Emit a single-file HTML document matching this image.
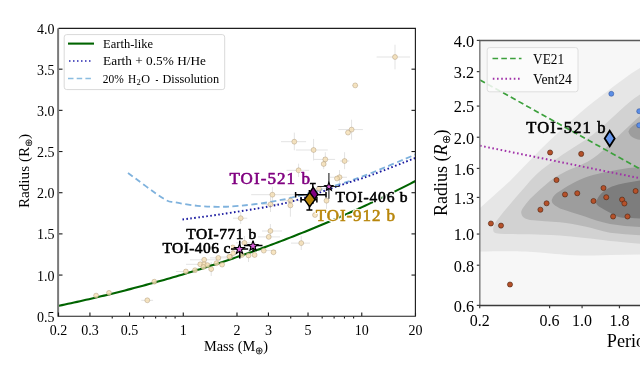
<!DOCTYPE html><html><head><meta charset="utf-8"><style>html,body{margin:0;padding:0;background:#fff;width:640px;height:376px;overflow:hidden;position:relative}</style></head><body><div style="position:absolute;left:0;top:0;width:640px;height:376px;will-change:transform"><svg width="640" height="376" viewBox="0 0 640 376" style="position:absolute;left:0;top:0">
<defs><clipPath id="cl"><rect x="58.5" y="28.4" width="356.9" height="287.85"/></clipPath><clipPath id="cr"><rect x="480" y="40.5" width="170" height="265"/></clipPath></defs>
<g clip-path="url(#cl)">
<g stroke="#e3e3e3" stroke-width="1" fill="none">
<line x1="376.6" y1="57" x2="410.1" y2="57"/>
<line x1="395" y1="44.7" x2="395" y2="69.4"/>
<line x1="352.5" y1="85.4" x2="358" y2="85.4"/>
<line x1="338.3" y1="129.6" x2="362.9" y2="129.6"/>
<line x1="351.6" y1="119.7" x2="351.6" y2="139.8"/>
<line x1="281" y1="141.7" x2="306.1" y2="141.7"/>
<line x1="294.3" y1="132.6" x2="294.3" y2="150.3"/>
<line x1="295.9" y1="150" x2="327.8" y2="150"/>
<line x1="313.6" y1="138.9" x2="313.6" y2="160.5"/>
<line x1="313.6" y1="159.4" x2="335.1" y2="159.4"/>
<line x1="325.3" y1="152.2" x2="325.3" y2="166"/>
<line x1="323.7" y1="157" x2="323.7" y2="169.2"/>
<line x1="339.9" y1="161" x2="349.3" y2="161"/>
<line x1="344.6" y1="152.2" x2="344.6" y2="169.2"/>
<line x1="286.5" y1="170.3" x2="309.2" y2="170.3"/>
<line x1="298.6" y1="163.7" x2="298.6" y2="177"/>
<line x1="330" y1="177.25" x2="347" y2="177.25"/>
<line x1="339.5" y1="170" x2="339.5" y2="185"/>
<line x1="251.2" y1="194.7" x2="295.9" y2="194.7"/>
<line x1="272.4" y1="186.8" x2="272.4" y2="204"/>
<line x1="311" y1="188.7" x2="328" y2="188.7"/>
<line x1="326.5" y1="193" x2="326.5" y2="213"/>
<line x1="281.8" y1="200.7" x2="300.6" y2="200.7"/>
<line x1="290.4" y1="196.3" x2="290.4" y2="216.7"/>
<line x1="262" y1="204.4" x2="279" y2="204.4"/>
<line x1="270.5" y1="197" x2="270.5" y2="212"/>
<line x1="233" y1="218.2" x2="247.3" y2="218.2"/>
<line x1="240.7" y1="212" x2="240.7" y2="224"/>
<line x1="262" y1="231" x2="282" y2="231"/>
<line x1="270.4" y1="224" x2="270.4" y2="238"/>
<line x1="258" y1="236.9" x2="280" y2="236.9"/>
<line x1="291" y1="243.1" x2="310" y2="243.1"/>
<line x1="301.25" y1="236" x2="301.25" y2="250"/>
<line x1="236" y1="242.9" x2="256" y2="242.9"/>
<line x1="244.4" y1="236" x2="244.4" y2="250"/>
<line x1="221" y1="256.9" x2="240" y2="256.9"/>
<line x1="248.5" y1="248" x2="248.5" y2="262"/>
<line x1="254" y1="250.6" x2="276" y2="250.6"/>
<line x1="210" y1="257.9" x2="228" y2="257.9"/>
<line x1="190" y1="259.8" x2="221" y2="259.8"/>
<line x1="186" y1="264.3" x2="212" y2="264.3"/>
<line x1="211.2" y1="262" x2="211.2" y2="276"/>
<line x1="176" y1="271.5" x2="196" y2="271.5"/>
<line x1="141.25" y1="300.3" x2="153.1" y2="300.3"/>
</g>
<path d="M128.00,173.00 C133.92,177.27 155.67,193.72 163.50,198.60 C171.33,203.48 169.33,201.10 175.00,202.30 C180.67,203.50 190.42,205.05 197.50,205.80 C204.58,206.55 210.42,206.81 217.50,206.80 C224.58,206.79 231.25,206.55 240.00,205.75 C248.75,204.95 260.00,203.69 270.00,202.00 C280.00,200.31 288.12,198.64 300.00,195.60 C311.88,192.56 329.58,187.43 341.25,183.75 C352.92,180.07 357.81,178.29 370.00,173.50 C382.19,168.71 405.73,158.62 414.40,155.00 C423.07,151.38 420.73,152.33 422.00,151.80" fill="none" stroke="#7fb2dd" stroke-width="1.8" stroke-dasharray="6,3.5"/>
<path d="M182.50,219.50 C188.75,218.65 205.42,216.61 220.00,214.40 C234.58,212.19 256.67,208.80 270.00,206.25 C283.33,203.70 288.12,202.64 300.00,199.10 C311.88,195.56 329.25,189.05 341.25,185.00 C353.25,180.95 359.81,179.25 372.00,174.80 C384.19,170.35 406.07,161.55 414.40,158.30 C422.73,155.05 420.73,155.80 422.00,155.30" fill="none" stroke="#1a1aa0" stroke-width="1.9" stroke-dasharray="1.6,2.4"/>
<polyline points="50,307.57 53,306.97 56,306.38 59,305.76 62,305.13 65,304.49 68,303.84 71,303.19 74,302.53 77,301.87 80,301.2 83,300.52 86,299.84 89,299.15 92,298.46 95,297.76 98,297.05 101,296.34 104,295.62 107,294.9 110,294.16 113,293.43 116,292.68 119,291.93 122,291.17 125,290.41 128,289.64 131,288.86 134,288.08 137,287.29 140,286.5 143,285.69 146,284.88 149,284.07 152,283.24 155,282.42 158,281.58 161,280.74 164,279.89 167,279.03 170,278.17 173,277.3 176,276.42 179,275.54 182,274.65 185,273.75 188,272.84 191,271.93 194,271.01 197,270.08 200,269.15 203,268.21 206,267.26 209,266.31 212,265.34 215,264.38 218,263.4 221,262.41 224,261.42 227,260.42 230,259.41 233,258.4 236,257.38 239,256.35 242,255.31 245,254.27 248,253.21 251,252.15 254,251.08 257,250.01 260,248.92 263,247.83 266,246.73 269,245.62 272,244.51 275,243.38 278,242.25 281,241.11 284,239.96 287,238.81 290,237.64 293,236.47 296,235.29 299,234.1 302,232.9 305,231.69 308,230.48 311,229.25 314,228.02 317,226.78 320,225.53 323,224.27 326,223.0 329,221.73 332,220.44 335,219.15 338,217.85 341,216.54 344,215.22 347,213.89 350,212.55 353,211.2 356,209.84 359,208.48 362,207.1 365,205.72 368,204.33 371,202.92 374,201.51 377,200.09 380,198.66 383,197.22 386,195.77 389,194.31 392,192.84 395,191.37 398,189.88 401,188.38 404,186.87 407,185.36 410,183.83 413,182.29 416,180.74 419,179.16" fill="none" stroke="#006400" stroke-width="2.1"/>
<g fill="#f5deb3" fill-opacity="0.8" stroke="#a8916f" stroke-opacity="0.75" stroke-width="0.6">
<circle cx="395" cy="57" r="2.45"/>
<circle cx="355.2" cy="85.4" r="2.45"/>
<circle cx="351.6" cy="129.6" r="2.45"/>
<circle cx="348" cy="132.6" r="2.45"/>
<circle cx="294.3" cy="141.7" r="2.45"/>
<circle cx="313.6" cy="150" r="2.45"/>
<circle cx="325.3" cy="159.4" r="2.45"/>
<circle cx="323.7" cy="164" r="2.45"/>
<circle cx="344.6" cy="161" r="2.45"/>
<circle cx="298.6" cy="170.3" r="2.45"/>
<circle cx="339.5" cy="177.25" r="2.45"/>
<circle cx="337" cy="178.5" r="2.45"/>
<circle cx="272.4" cy="194.7" r="2.45"/>
<circle cx="319" cy="188.7" r="2.45"/>
<circle cx="326.5" cy="200.7" r="2.45"/>
<circle cx="290.4" cy="200.7" r="2.45"/>
<circle cx="290.4" cy="205.4" r="2.45"/>
<circle cx="270.5" cy="204.4" r="2.45"/>
<circle cx="240.7" cy="218.2" r="2.45"/>
<circle cx="270.4" cy="231" r="2.45"/>
<circle cx="268.75" cy="236.9" r="2.45"/>
<circle cx="301.25" cy="243.1" r="2.45"/>
<circle cx="315" cy="215" r="2.45"/>
<circle cx="244.4" cy="242.9" r="2.45"/>
<circle cx="232.75" cy="247.5" r="2.45"/>
<circle cx="233.1" cy="253.1" r="2.45"/>
<circle cx="230" cy="256.9" r="2.45"/>
<circle cx="241.9" cy="255" r="2.45"/>
<circle cx="248.5" cy="255.4" r="2.45"/>
<circle cx="254.6" cy="255" r="2.45"/>
<circle cx="263.75" cy="250.6" r="2.45"/>
<circle cx="273.5" cy="252.25" r="2.45"/>
<circle cx="218.3" cy="257.9" r="2.45"/>
<circle cx="204.2" cy="259.8" r="2.45"/>
<circle cx="216.5" cy="263.2" r="2.45"/>
<circle cx="222.1" cy="264.6" r="2.45"/>
<circle cx="200.25" cy="264.3" r="2.45"/>
<circle cx="204.2" cy="264.3" r="2.45"/>
<circle cx="207.4" cy="265.1" r="2.45"/>
<circle cx="203.4" cy="267" r="2.45"/>
<circle cx="211.2" cy="269.1" r="2.45"/>
<circle cx="229.4" cy="256.5" r="2.45"/>
<circle cx="185.9" cy="271.5" r="2.45"/>
<circle cx="195" cy="270.25" r="2.45"/>
<circle cx="154.3" cy="281.7" r="2.45"/>
<circle cx="147.3" cy="300.3" r="2.45"/>
<circle cx="96.1" cy="295.6" r="2.45"/>
<circle cx="109" cy="292.9" r="2.45"/>
</g>
<g stroke="#000" stroke-width="1.5" fill="none">
<line x1="295.6" y1="194.75" x2="326" y2="194.75"/><line x1="295.6" y1="192" x2="295.6" y2="197.5"/><line x1="326" y1="192" x2="326" y2="197.5"/>
<line x1="312.8" y1="183.6" x2="312.8" y2="204"/><line x1="309.8" y1="183.6" x2="315.8" y2="183.6"/>
<line x1="301" y1="199.7" x2="316.9" y2="199.7"/><line x1="301" y1="197" x2="301" y2="202.4"/><line x1="316.9" y1="197" x2="316.9" y2="202.4"/>
<line x1="309.4" y1="190" x2="309.4" y2="209.9"/><line x1="306.4" y1="209.9" x2="312.4" y2="209.9"/>
<g stroke="#2a2a2a" stroke-width="1.15"><line x1="317.5" y1="186.5" x2="339.4" y2="186.5"/><line x1="328.9" y1="173" x2="328.9" y2="198.75"/></g>
<line x1="231" y1="249" x2="248" y2="249"/><line x1="239.75" y1="240.6" x2="239.75" y2="258.5"/>
<line x1="244" y1="245.6" x2="262.5" y2="245.6"/><line x1="253.1" y1="241" x2="253.1" y2="252"/>
</g>
<path d="M313.2,187.3 L317.9,194.3 L313.2,201.3 L308.5,194.3 Z" fill="#800080" stroke="#000" stroke-width="1.5" stroke-linejoin="miter"/>
<path d="M309.7,192.4 L315.0,199.6 L309.7,206.79999999999998 L304.4,199.6 Z" fill="#b8860b" stroke="#000" stroke-width="1.5" stroke-linejoin="miter"/>
<path d="M328.90,182.40 L329.96,185.24 L332.99,185.37 L330.62,187.26 L331.43,190.18 L328.90,188.51 L326.37,190.18 L327.18,187.26 L324.81,185.37 L327.84,185.24 Z" fill="#d95fd9" stroke="#000" stroke-width="1.1"/>
<path d="M239.50,244.00 L240.78,247.43 L244.45,247.59 L241.58,249.87 L242.56,253.41 L239.50,251.38 L236.44,253.41 L237.42,249.87 L234.55,247.59 L238.22,247.43 Z" fill="#d95fd9" stroke="#000" stroke-width="1.1"/>
<path d="M253.00,240.90 L254.28,244.33 L257.95,244.49 L255.08,246.77 L256.06,250.31 L253.00,248.28 L249.94,250.31 L250.92,246.77 L248.05,244.49 L251.72,244.33 Z" fill="#d95fd9" stroke="#000" stroke-width="1.1"/>
</g>
<rect x="57.1" y="28.4" width="2" height="288.4" fill="#7a7a7a"/>
<path d="M58.5,28.4 H415.4 V316.25 H58" fill="none" stroke="#1e1e1e" stroke-width="1.15" stroke-linejoin="miter"/>
<g stroke="#1a1a1a" stroke-width="1.1"><line x1="59" y1="275.07" x2="62.5" y2="275.07"/><line x1="415" y1="275.07" x2="411.5" y2="275.07"/><line x1="59" y1="233.89" x2="62.5" y2="233.89"/><line x1="415" y1="233.89" x2="411.5" y2="233.89"/><line x1="59" y1="192.71" x2="62.5" y2="192.71"/><line x1="415" y1="192.71" x2="411.5" y2="192.71"/><line x1="59" y1="151.53" x2="62.5" y2="151.53"/><line x1="415" y1="151.53" x2="411.5" y2="151.53"/><line x1="59" y1="110.35" x2="62.5" y2="110.35"/><line x1="415" y1="110.35" x2="411.5" y2="110.35"/><line x1="59" y1="69.17" x2="62.5" y2="69.17"/><line x1="415" y1="69.17" x2="411.5" y2="69.17"/><line x1="58.50" y1="316" x2="58.50" y2="312.5"/><line x1="89.93" y1="316" x2="89.93" y2="312.5"/><line x1="129.53" y1="316" x2="129.53" y2="312.5"/><line x1="183.27" y1="316" x2="183.27" y2="312.5"/><line x1="237.00" y1="316" x2="237.00" y2="312.5"/><line x1="268.43" y1="316" x2="268.43" y2="312.5"/><line x1="308.03" y1="316" x2="308.03" y2="312.5"/><line x1="361.77" y1="316" x2="361.77" y2="312.5"/><line x1="415.50" y1="316" x2="415.50" y2="312.5"/><line x1="112.23" y1="316.5" x2="112.23" y2="318.5"/><line x1="143.67" y1="316.5" x2="143.67" y2="318.5"/><line x1="155.62" y1="316.5" x2="155.62" y2="318.5"/><line x1="165.97" y1="316.5" x2="165.97" y2="318.5"/><line x1="175.10" y1="316.5" x2="175.10" y2="318.5"/><line x1="290.73" y1="316.5" x2="290.73" y2="318.5"/><line x1="322.17" y1="316.5" x2="322.17" y2="318.5"/><line x1="334.12" y1="316.5" x2="334.12" y2="318.5"/><line x1="344.47" y1="316.5" x2="344.47" y2="318.5"/><line x1="353.60" y1="316.5" x2="353.60" y2="318.5"/></g>
<text x="54.4" y="321.85" font-family="'Liberation Serif', serif" font-size="14" font-weight="normal" fill="#000" text-anchor="end" textLength="17.5" lengthAdjust="spacingAndGlyphs" >0.5</text>
<text x="54.4" y="280.67" font-family="'Liberation Serif', serif" font-size="14" font-weight="normal" fill="#000" text-anchor="end" textLength="17.5" lengthAdjust="spacingAndGlyphs" >1.0</text>
<text x="54.4" y="239.49" font-family="'Liberation Serif', serif" font-size="14" font-weight="normal" fill="#000" text-anchor="end" textLength="17.5" lengthAdjust="spacingAndGlyphs" >1.5</text>
<text x="54.4" y="198.31" font-family="'Liberation Serif', serif" font-size="14" font-weight="normal" fill="#000" text-anchor="end" textLength="17.5" lengthAdjust="spacingAndGlyphs" >2.0</text>
<text x="54.4" y="157.13" font-family="'Liberation Serif', serif" font-size="14" font-weight="normal" fill="#000" text-anchor="end" textLength="17.5" lengthAdjust="spacingAndGlyphs" >2.5</text>
<text x="54.4" y="115.95" font-family="'Liberation Serif', serif" font-size="14" font-weight="normal" fill="#000" text-anchor="end" textLength="17.5" lengthAdjust="spacingAndGlyphs" >3.0</text>
<text x="54.4" y="74.77" font-family="'Liberation Serif', serif" font-size="14" font-weight="normal" fill="#000" text-anchor="end" textLength="17.5" lengthAdjust="spacingAndGlyphs" >3.5</text>
<text x="54.4" y="33.59" font-family="'Liberation Serif', serif" font-size="14" font-weight="normal" fill="#000" text-anchor="end" textLength="17.5" lengthAdjust="spacingAndGlyphs" >4.0</text>
<text x="58.50" y="334.6" font-family="'Liberation Serif', serif" font-size="14" font-weight="normal" fill="#000" text-anchor="middle" >0.2</text>
<text x="89.93" y="334.6" font-family="'Liberation Serif', serif" font-size="14" font-weight="normal" fill="#000" text-anchor="middle" >0.3</text>
<text x="129.53" y="334.6" font-family="'Liberation Serif', serif" font-size="14" font-weight="normal" fill="#000" text-anchor="middle" >0.5</text>
<text x="183.27" y="334.6" font-family="'Liberation Serif', serif" font-size="14" font-weight="normal" fill="#000" text-anchor="middle" >1</text>
<text x="237.00" y="334.6" font-family="'Liberation Serif', serif" font-size="14" font-weight="normal" fill="#000" text-anchor="middle" >2</text>
<text x="268.43" y="334.6" font-family="'Liberation Serif', serif" font-size="14" font-weight="normal" fill="#000" text-anchor="middle" >3</text>
<text x="308.03" y="334.6" font-family="'Liberation Serif', serif" font-size="14" font-weight="normal" fill="#000" text-anchor="middle" >5</text>
<text x="361.77" y="334.6" font-family="'Liberation Serif', serif" font-size="14" font-weight="normal" fill="#000" text-anchor="middle" >10</text>
<text x="415.50" y="334.6" font-family="'Liberation Serif', serif" font-size="14" font-weight="normal" fill="#000" text-anchor="middle" >20</text>
<text x="204" y="351.25" font-family="'Liberation Serif', serif" font-size="14.3" fill="#000">Mass (M<tspan font-size="10" dy="2.5">⊕</tspan><tspan dy="-2.5">)</tspan></text>
<text transform="translate(29.4,208.1) rotate(-90)" x="0" y="0" font-family="'Liberation Serif', serif" font-size="15.2" fill="#000">Radius (R<tspan font-size="10" dy="2.5">⊕</tspan><tspan dy="-2.5">)</tspan></text>
<rect x="64.2" y="34.6" width="160.5" height="55" rx="2.5" fill="#fff" fill-opacity="0.8" stroke="#d9d9d9" stroke-width="1"/>
<line x1="68" y1="43.6" x2="94" y2="43.6" stroke="#006400" stroke-width="2.1"/>
<line x1="69" y1="61" x2="92" y2="61" stroke="#2626b0" stroke-width="1.6" stroke-dasharray="1.5,2.5"/>
<line x1="68" y1="78.5" x2="94" y2="78.5" stroke="#8bbde0" stroke-width="1.6" stroke-dasharray="5.5,3.2"/>
<text x="103.1" y="47.75" font-family="'Liberation Serif', serif" font-size="11.5" font-weight="normal" fill="#000" text-anchor="start" textLength="50" lengthAdjust="spacingAndGlyphs" >Earth-like</text>
<text x="103.1" y="65.25" font-family="'Liberation Serif', serif" font-size="11.5" font-weight="normal" fill="#000" text-anchor="start" textLength="102.9" lengthAdjust="spacingAndGlyphs" >Earth + 0.5% H/He</text>
<text x="102.75" y="83" font-family="'Liberation Serif', serif" font-size="11.5" font-weight="normal" fill="#000" text-anchor="start" textLength="21" lengthAdjust="spacingAndGlyphs" >20%</text>
<text x="128.1" y="83" font-family="'Liberation Serif', serif" font-size="11.5" font-weight="normal" fill="#000" text-anchor="start" textLength="8.2" lengthAdjust="spacingAndGlyphs" >H</text>
<text x="136.4" y="85" font-family="'Liberation Serif', serif" font-size="8" font-weight="normal" fill="#000" text-anchor="start" textLength="4.3" lengthAdjust="spacingAndGlyphs" >2</text>
<text x="141.25" y="83" font-family="'Liberation Serif', serif" font-size="11.5" font-weight="normal" fill="#000" text-anchor="start" textLength="8.8" lengthAdjust="spacingAndGlyphs" >O</text>
<text x="155.4" y="83" font-family="'Liberation Serif', serif" font-size="11.5" font-weight="normal" fill="#000" text-anchor="start" textLength="2.8" lengthAdjust="spacingAndGlyphs" >-</text>
<text x="162.5" y="83" font-family="'Liberation Serif', serif" font-size="11.5" font-weight="normal" fill="#000" text-anchor="start" textLength="56.6" lengthAdjust="spacingAndGlyphs" >Dissolution</text>
<text x="229.4" y="183.75" font-family="'Liberation Serif', serif" font-size="17" textLength="80.6" lengthAdjust="spacing" fill="#fff" stroke="#fff" stroke-width="2.6" stroke-linejoin="round">TOI-521 b</text><text x="229.4" y="183.75" font-family="'Liberation Serif', serif" font-size="17" textLength="80.6" lengthAdjust="spacing" fill="#800080" stroke="#800080" stroke-width="0.6" stroke-linejoin="round">TOI-521 b</text>
<text x="315.7" y="220.8" font-family="'Liberation Serif', serif" font-size="17" textLength="79.3" lengthAdjust="spacing" fill="#fff" stroke="#fff" stroke-width="2.6" stroke-linejoin="round">TOI-912 b</text><text x="315.7" y="220.8" font-family="'Liberation Serif', serif" font-size="17" textLength="79.3" lengthAdjust="spacing" fill="#b8860b" stroke="#b8860b" stroke-width="0.6" stroke-linejoin="round">TOI-912 b</text>
<text x="335.6" y="201.9" font-family="'Liberation Serif', serif" font-size="15.5" textLength="72" lengthAdjust="spacing" fill="#fff" stroke="#fff" stroke-width="2.6" stroke-linejoin="round">TOI-406 b</text><text x="335.6" y="201.9" font-family="'Liberation Serif', serif" font-size="15.5" textLength="72" lengthAdjust="spacing" fill="#000" stroke="#000" stroke-width="0.6" stroke-linejoin="round">TOI-406 b</text>
<text x="186.25" y="238.75" font-family="'Liberation Serif', serif" font-size="15.5" textLength="70" lengthAdjust="spacing" fill="#fff" stroke="#fff" stroke-width="2.6" stroke-linejoin="round">TOI-771 b</text><text x="186.25" y="238.75" font-family="'Liberation Serif', serif" font-size="15.5" textLength="70" lengthAdjust="spacing" fill="#000" stroke="#000" stroke-width="0.6" stroke-linejoin="round">TOI-771 b</text>
<text x="162.5" y="253.1" font-family="'Liberation Serif', serif" font-size="15.5" textLength="68" lengthAdjust="spacing" fill="#fff" stroke="#fff" stroke-width="2.6" stroke-linejoin="round">TOI-406 c</text><text x="162.5" y="253.1" font-family="'Liberation Serif', serif" font-size="15.5" textLength="68" lengthAdjust="spacing" fill="#000" stroke="#000" stroke-width="0.6" stroke-linejoin="round">TOI-406 c</text>
<rect x="480" y="40.5" width="170" height="265" fill="#f7f7f7"/>
<g clip-path="url(#cr)">
<path d="M470,217 L480,208 C490,199 500,190 510,181 C520,171 530,160 540,150 C553,137 566,125 580,113 C588,106 597,99 606.5,92 C617,84 628,75 640,68 L700,40 L700,254.5 C670,254.5 650,254.5 640,254.5 C620,254.8 600,255.5 580,255.5 C565,255.2 555,254 540,252.6 C525,251.4 510,251 480,251.6 L470,252 Z" fill="#e6e6e6"/>
<path d="M493.75,232 C492,229 494,224 498,219 C508,206 520,193 530,181 C541,169 552,162 562,155 C572,148 583,142 593,134.5 C603,127 612,117.5 620,110.5 C626,105 633,99 640,94.6 L700,70 L700,244 L640,243.75 C628,242.6 618,241.6 610,241 C600,239.6 592,238.6 585,238 C575,237 567,236 560,235.5 C548,234.8 538,234.4 530,234.25 C518,234 508,234 500,233.7 C497,233.6 495,233 493.75,232 Z" fill="#d2d2d2"/>
<path d="M521.5,214 C520,211 524,206 530,199 C537,192 544,186 550,181 C558,175 568,170 575,167.5 C581,165 586,162.5 590.5,160 C600,154 611,143 620,134.5 C627,128 634,121 640,116 L700,100 L700,236 L640,235.25 C630,234.6 620,233.8 610,232.75 C601,231 592,228 585,226.5 C577,225 568,223 560,222.25 C550,221.5 540,221 530,220 C525,219 522,217 521.5,214 Z" fill="#b9b9b9"/>
<path d="M628.5,131.5 C630,127 635,123.5 640,122.5 L700,121 L700,140 L640,139.8 C634,139 629,136 628.5,131.5 Z" fill="#9d9d9d"/>
<path d="M551.8,199.8 C553,196 556,193 560,191 C570,184 582,178 593,175 C608,171 625,168 640,167 L700,167 L700,228 L640,227 C630,226.5 620,225.5 610,224 C600,222 592,219 585,216.5 C575,213 567,211 560,208.5 C555,206 551,203 551.8,199.8 Z" fill="#9d9d9d"/>
<path d="M596,203 C597,196 605,189 612,186.5 C620,184 630,182 640,180.6 L700,180 L700,219 L640,218.4 C633,218.3 628,218 622.5,217.75 C617,217 613,215 610,212.75 C604,209 597,206.5 596,203 Z" fill="#7d7d7d"/>
<line x1="480" y1="80" x2="650" y2="174.5" stroke="#3ca03c" stroke-width="1.7" stroke-dasharray="5.6,3.2"/>
<line x1="480" y1="145.7" x2="650" y2="180.3" stroke="#a030a8" stroke-width="2" stroke-dasharray="1.6,2.6"/>
<circle cx="550.1" cy="152.5" r="2.55" fill="#b5512a" stroke="#4a2410" stroke-width="0.6"/>
<circle cx="581.2" cy="153.9" r="2.55" fill="#b5512a" stroke="#4a2410" stroke-width="0.6"/>
<circle cx="556.5" cy="180" r="2.55" fill="#b5512a" stroke="#4a2410" stroke-width="0.6"/>
<circle cx="603.5" cy="188" r="2.55" fill="#b5512a" stroke="#4a2410" stroke-width="0.6"/>
<circle cx="565" cy="194.5" r="2.55" fill="#b5512a" stroke="#4a2410" stroke-width="0.6"/>
<circle cx="577.25" cy="193.25" r="2.55" fill="#b5512a" stroke="#4a2410" stroke-width="0.6"/>
<circle cx="606.25" cy="197.25" r="2.55" fill="#b5512a" stroke="#4a2410" stroke-width="0.6"/>
<circle cx="593.5" cy="201" r="2.55" fill="#b5512a" stroke="#4a2410" stroke-width="0.6"/>
<circle cx="622.1" cy="199.6" r="2.55" fill="#b5512a" stroke="#4a2410" stroke-width="0.6"/>
<circle cx="624.4" cy="203.5" r="2.55" fill="#b5512a" stroke="#4a2410" stroke-width="0.6"/>
<circle cx="635.6" cy="191" r="2.55" fill="#b5512a" stroke="#4a2410" stroke-width="0.6"/>
<circle cx="546.6" cy="203.3" r="2.55" fill="#b5512a" stroke="#4a2410" stroke-width="0.6"/>
<circle cx="540.4" cy="209.7" r="2.55" fill="#b5512a" stroke="#4a2410" stroke-width="0.6"/>
<circle cx="613.1" cy="216.5" r="2.55" fill="#b5512a" stroke="#4a2410" stroke-width="0.6"/>
<circle cx="627.5" cy="216.5" r="2.55" fill="#b5512a" stroke="#4a2410" stroke-width="0.6"/>
<circle cx="490.9" cy="223.5" r="2.55" fill="#b5512a" stroke="#4a2410" stroke-width="0.6"/>
<circle cx="501" cy="225.6" r="2.55" fill="#b5512a" stroke="#4a2410" stroke-width="0.6"/>
<circle cx="510" cy="284.5" r="2.55" fill="#b5512a" stroke="#4a2410" stroke-width="0.6"/>
<circle cx="611.3" cy="93.8" r="2.5" fill="#5b8ee6" stroke="#2a4a90" stroke-width="0.5"/>
<circle cx="639.2" cy="111.2" r="2.5" fill="#5b8ee6" stroke="#2a4a90" stroke-width="0.5"/>
<circle cx="639.2" cy="125.3" r="2.5" fill="#5b8ee6" stroke="#2a4a90" stroke-width="0.5"/>
<path d="M609.7,130.7 L614.7,138.5 L609.7,146.3 L604.7,138.5 Z" fill="#6495ed" stroke="#000" stroke-width="1.8" stroke-linejoin="miter"/>
</g>
<rect x="487.2" y="47.6" width="90.8" height="44.2" rx="2.5" fill="#fbfbfb" fill-opacity="0.85" stroke="#dedede" stroke-width="1"/>
<line x1="492.5" y1="58.5" x2="521.5" y2="58.5" stroke="#3ca03c" stroke-width="1.7" stroke-dasharray="5.6,3.2"/>
<line x1="492.8" y1="78.7" x2="521" y2="78.7" stroke="#a030a8" stroke-width="2" stroke-dasharray="1.6,2.6"/>
<text x="533.1" y="64" font-family="'Liberation Serif', serif" font-size="15" font-weight="normal" fill="#000" text-anchor="start" textLength="31" lengthAdjust="spacingAndGlyphs" >VE21</text>
<text x="533.1" y="84" font-family="'Liberation Serif', serif" font-size="15" font-weight="normal" fill="#000" text-anchor="start" textLength="38.8" lengthAdjust="spacingAndGlyphs" >Vent24</text>
<text x="526.3" y="132.6" font-family="'Liberation Serif', serif" font-size="16.5" fill="#000" stroke="#000" stroke-width="0.6" textLength="79.3" lengthAdjust="spacing">TOI-521 b</text>
<rect x="479" y="40" width="1.6" height="266" fill="#888"/>
<line x1="479" y1="40.5" x2="650" y2="40.5" stroke="#5a5a5a" stroke-width="1.3"/>
<line x1="479" y1="305.5" x2="650" y2="305.5" stroke="#3a3a3a" stroke-width="1.3"/>
<text x="474.2" y="46.73" font-family="'Liberation Serif', serif" font-size="17.5" font-weight="normal" fill="#000" text-anchor="end" textLength="20.4" lengthAdjust="spacingAndGlyphs" >4.0</text>
<text x="474.2" y="77.90" font-family="'Liberation Serif', serif" font-size="17.5" font-weight="normal" fill="#000" text-anchor="end" textLength="20.4" lengthAdjust="spacingAndGlyphs" >3.2</text>
<text x="474.2" y="112.38" font-family="'Liberation Serif', serif" font-size="17.5" font-weight="normal" fill="#000" text-anchor="end" textLength="20.4" lengthAdjust="spacingAndGlyphs" >2.5</text>
<text x="474.2" y="143.54" font-family="'Liberation Serif', serif" font-size="17.5" font-weight="normal" fill="#000" text-anchor="end" textLength="20.4" lengthAdjust="spacingAndGlyphs" >2.0</text>
<text x="474.2" y="174.71" font-family="'Liberation Serif', serif" font-size="17.5" font-weight="normal" fill="#000" text-anchor="end" textLength="20.4" lengthAdjust="spacingAndGlyphs" >1.6</text>
<text x="474.2" y="203.71" font-family="'Liberation Serif', serif" font-size="17.5" font-weight="normal" fill="#000" text-anchor="end" textLength="20.4" lengthAdjust="spacingAndGlyphs" >1.3</text>
<text x="474.2" y="240.35" font-family="'Liberation Serif', serif" font-size="17.5" font-weight="normal" fill="#000" text-anchor="end" textLength="20.4" lengthAdjust="spacingAndGlyphs" >1.0</text>
<text x="474.2" y="271.52" font-family="'Liberation Serif', serif" font-size="17.5" font-weight="normal" fill="#000" text-anchor="end" textLength="20.4" lengthAdjust="spacingAndGlyphs" >0.8</text>
<text x="474.2" y="311.70" font-family="'Liberation Serif', serif" font-size="17.5" font-weight="normal" fill="#000" text-anchor="end" textLength="20.4" lengthAdjust="spacingAndGlyphs" >0.6</text>
<text x="479.75" y="325.9" font-family="'Liberation Serif', serif" font-size="17.5" font-weight="normal" fill="#000" text-anchor="middle" textLength="20" lengthAdjust="spacingAndGlyphs" >0.2</text>
<text x="549.60" y="325.9" font-family="'Liberation Serif', serif" font-size="17.5" font-weight="normal" fill="#000" text-anchor="middle" textLength="20" lengthAdjust="spacingAndGlyphs" >0.6</text>
<text x="582.08" y="325.9" font-family="'Liberation Serif', serif" font-size="17.5" font-weight="normal" fill="#000" text-anchor="middle" textLength="20" lengthAdjust="spacingAndGlyphs" >1.0</text>
<text x="619.45" y="325.9" font-family="'Liberation Serif', serif" font-size="17.5" font-weight="normal" fill="#000" text-anchor="middle" textLength="20" lengthAdjust="spacingAndGlyphs" >1.8</text>
<g stroke="#3a3a3a" stroke-width="1.2"><line x1="476.8" y1="40.43" x2="479.5" y2="40.43"/><line x1="476.8" y1="71.60" x2="479.5" y2="71.60"/><line x1="476.8" y1="106.08" x2="479.5" y2="106.08"/><line x1="476.8" y1="137.24" x2="479.5" y2="137.24"/><line x1="476.8" y1="168.41" x2="479.5" y2="168.41"/><line x1="476.8" y1="197.41" x2="479.5" y2="197.41"/><line x1="476.8" y1="234.05" x2="479.5" y2="234.05"/><line x1="476.8" y1="265.22" x2="479.5" y2="265.22"/><line x1="476.8" y1="305.40" x2="479.5" y2="305.40"/><line x1="479.75" y1="305.5" x2="479.75" y2="308.3"/><line x1="549.60" y1="305.5" x2="549.60" y2="308.3"/><line x1="582.08" y1="305.5" x2="582.08" y2="308.3"/><line x1="619.45" y1="305.5" x2="619.45" y2="308.3"/></g>
<text x="606.8" y="346.6" font-family="'Liberation Serif', serif" font-size="18.2" fill="#000">Period</text>
<text transform="translate(446.5,215.9) rotate(-90)" x="0" y="0" font-family="'Liberation Serif', serif" font-size="18" fill="#000">Radius (<tspan font-style="italic">R</tspan><tspan font-size="11" dy="3">⊕</tspan><tspan dy="-3">)</tspan></text>
</svg></div></body></html>
